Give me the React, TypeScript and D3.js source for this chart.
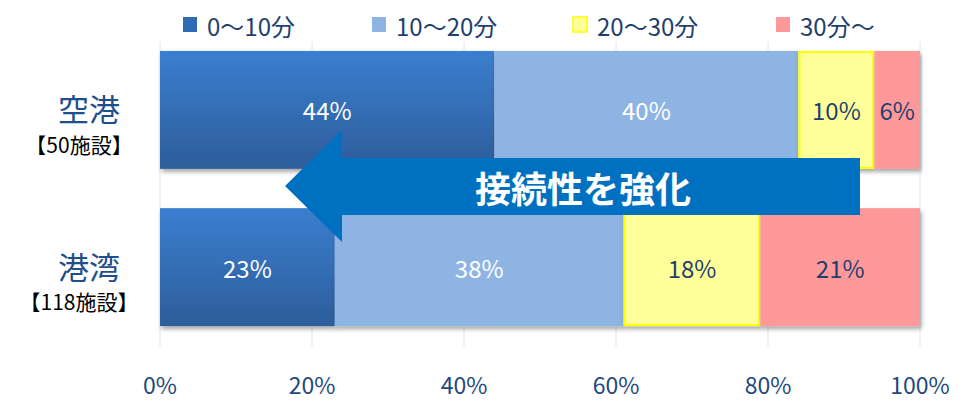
import React from "react";
import * as d3 from "d3";

const categories = ["空港", "港湾"];
const facilityLabels = ["【50施設】", "【118施設】"];
const seriesNames = ["0～10分", "10～20分", "20～30分", "30分～"];
const airportValues = [44, 40, 10, 6];
const harborValues = [23, 38, 18, 21];
const tickValues = [0, 20, 40, 60, 80, 100];
const arrowText = "接続性を強化";

const fills = ["url(#darkBlueGrad)", "#8eb4e3", "#ffff99", "#ff9999"];
const legendFills = ["#2f6bb5", "#8eb4e3", "#ffff99", "#ff9999"];
const strokes = ["none", "none", "#ffff00", "none"];
const labelColors = ["#ffffff", "#ffffff", "#1f3f6f", "#1f3f6f"];

const W = 973;
const H = 402;
const FONT = "'Noto Sans CJK JP', 'Noto Sans', sans-serif";

export default function App() {
  const x = d3.scaleLinear().domain([0, 100]).range([160, 920]);
  const y = d3
    .scaleBand<string>()
    .domain(categories)
    .range([41.5, 335.5])
    .paddingInner(0.25)
    .paddingOuter(0.06);

  const rows = categories.map((c, i) => {
    const vals = i === 0 ? airportValues : harborValues;
    const obj: Record<string, any> = { cat: c };
    seriesNames.forEach((s, j) => (obj[s] = vals[j]));
    return obj;
  });
  const stacked = d3.stack<any>().keys(seriesNames)(rows);

  const legendX = [183, 372, 573, 776];

  const arrowPts: [number, number][] = [
    [285, 186],
    [342, 130],
    [342, 158],
    [860, 158],
    [860, 215],
    [342, 215],
    [342, 242],
  ];
  const arrowPath = d3.line()(arrowPts) + "Z";

  return (
    <svg
      width={W}
      height={H}
      style={{ position: "absolute", left: 0, top: 0, background: "#fff" }}
      fontFamily={FONT}
    >
      <defs>
        <linearGradient id="darkBlueGrad" x1="0" y1="0" x2="0" y2="1">
          <stop offset="0%" stopColor="#3b7ecf" />
          <stop offset="100%" stopColor="#2d5d9b" />
        </linearGradient>
        <filter id="shadow" x="-5%" y="-10%" width="110%" height="130%">
          <feDropShadow dx="1.5" dy="3" stdDeviation="2" floodColor="#000" floodOpacity="0.35" />
        </filter>
      </defs>

      {/* gridlines */}
      {tickValues.map((t) => (
        <line
          key={t}
          x1={x(t)}
          x2={x(t)}
          y1={42}
          y2={347}
          stroke="#dce6f2"
          strokeWidth={1}
        />
      ))}

      {/* bars */}
      {stacked.map((layer, j) =>
        layer.map((d, i) => {
          const cat = categories[i];
          const x0 = x(d[0]);
          const x1 = x(d[1]);
          const yy = y(cat)!;
          const bh = y.bandwidth();
          return (
            <g key={`${j}-${i}`}>
              <rect
                x={x0}
                y={yy}
                width={x1 - x0}
                height={bh}
                fill={fills[j]}
                filter="url(#shadow)"
              />
              {strokes[j] !== "none" && (
                <rect
                  x={x0 + 1}
                  y={yy + 1}
                  width={x1 - x0 - 2}
                  height={bh - 2}
                  fill="none"
                  stroke={strokes[j]}
                  strokeWidth={2}
                />
              )}
            </g>
          );
        })
      )}

      {/* data labels */}
      {stacked.map((layer, j) =>
        layer.map((d, i) => {
          const cat = categories[i];
          const v = d[1] - d[0];
          return (
            <text
              key={`l-${j}-${i}`}
              x={(x(d[0]) + x(d[1])) / 2}
              y={y(cat)! + y.bandwidth() / 2}
              textAnchor="middle"
              dominantBaseline="central"
              fontSize={24}
              fill={labelColors[j]}
            >
              {`${v}%`}
            </text>
          );
        })
      )}

      {/* x tick labels */}
      {tickValues.map((t) => (
        <text
          key={`t-${t}`}
          x={x(t)}
          y={384}
          textAnchor="middle"
          dominantBaseline="central"
          fontSize={23}
          fill="#1f497d"
        >
          {`${t}%`}
        </text>
      ))}

      {/* category labels */}
      {categories.map((c, i) => {
        const cy = y(c)! + y.bandwidth() / 2;
        return (
          <g key={`c-${c}`}>
            <text
              x={89}
              y={cy - 2}
              textAnchor="middle"
              dominantBaseline="central"
              fontSize={31}
              fill="#1f4e8c"
            >
              {c}
            </text>
            <text
              x={79}
              y={cy + 34}
              textAnchor="middle"
              dominantBaseline="central"
              fontSize={21}
              fill="#000"
            >
              {facilityLabels[i]}
            </text>
          </g>
        );
      })}

      {/* legend */}
      {seriesNames.map((s, j) => (
        <g key={`lg-${s}`}>
          <rect
            x={legendX[j]}
            y={17}
            width={14}
            height={15}
            fill={legendFills[j]}
            stroke={strokes[j] === "none" ? "none" : strokes[j]}
            strokeWidth={1.5}
          />
          <text
            x={legendX[j] + 24}
            y={25}
            dominantBaseline="central"
            fontSize={24}
            fill="#1f3f6f"
          >
            {s}
          </text>
        </g>
      ))}

      {/* arrow */}
      <path d={arrowPath} fill="#0070c0" />
      <text
        x={583}
        y={187}
        textAnchor="middle"
        dominantBaseline="central"
        fontSize={36}
        fontWeight={700}
        fill="#ffffff"
      >
        {arrowText}
      </text>
    </svg>
  );
}
